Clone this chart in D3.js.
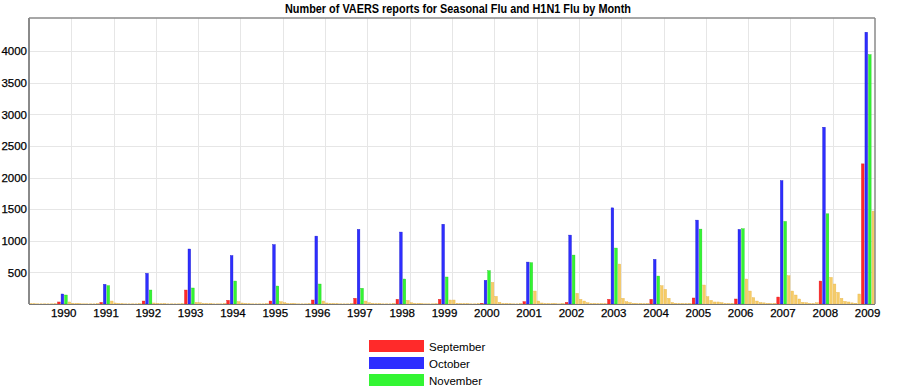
<!DOCTYPE html>
<html>
<head>
<meta charset="utf-8">
<script src="https://cdn.jsdelivr.net/npm/d3@7"></script>
<style>
  body { margin: 0; background: #fff; }
  svg { display: block; font-family: "Liberation Sans", Arial, sans-serif; }
</style>
</head>
<body>
<div id="chart"></div>
<script>
// years on the x axis, one value per month per year
const years = [1990, 1991, 1992, 1993, 1994, 1995, 1996, 1997, 1998, 1999,
               2000, 2001, 2002, 2003, 2004, 2005, 2006, 2007, 2008, 2009];

const jan = [5, 10, 16, 8, 20, 16, 20, 16, 20, 20, 63, 121, 47, 74, 90, 232, 116, 205, 205, 316];
const feb = [4, 5, 6, 5, 8, 6, 8, 8, 8, 8, 12, 26, 16, 47, 36, 90, 58, 100, 142, 184];
const mar = [3, 4, 4, 4, 5, 4, 5, 5, 5, 5, 6, 8, 6, 20, 23, 23, 32, 47, 79, 90];
const apr = [3, 3, 3, 3, 4, 3, 4, 4, 4, 4, 5, 5, 5, 8, 8, 10, 32, 23, 27, 42];
const may = [3, 3, 3, 3, 3, 3, 3, 3, 3, 3, 4, 4, 4, 6, 6, 6, 21, 18, 20, 32];
const jun = [3, 3, 3, 3, 3, 3, 3, 3, 3, 3, 3, 3, 4, 4, 5, 5, 8, 6, 8, 18];
const jul = [3, 3, 3, 3, 3, 3, 3, 3, 3, 3, 3, 3, 3, 4, 4, 4, 5, 5, 6, 10];
const aug = [4, 4, 4, 4, 5, 4, 5, 5, 5, 5, 5, 5, 5, 6, 6, 8, 8, 10, 20, 158];
const sep = [32, 26, 47, 221, 58, 47, 63, 90, 74, 74, 10, 37, 26, 74, 74, 95, 79, 110, 363, 2217];
const oct = [158, 311, 485, 870, 766, 940, 1074, 1180, 1138, 1262, 374, 663, 1090, 1521, 706, 1327, 1180, 1952, 2797, 4300];
const nov = [142, 290, 221, 253, 363, 284, 316, 248, 395, 427, 527, 653, 774, 885, 442, 1185, 1190, 1306, 1427, 3945];
const dec = [32, 47, 16, 26, 37, 37, 47, 47, 58, 63, 342, 205, 169, 632, 290, 300, 395, 447, 421, 1470];

const yTicks = [500, 1000, 1500, 2000, 2500, 3000, 3500, 4000];
const legendNames = ["September", "October", "November"];

const months = [jan, feb, mar, apr, may, jun, jul, aug, sep, oct, nov, dec];
const monthColor = function(m) {
    if (m === 8) return "#ff2a2a";
    if (m === 9) return "#2e2eff";
    if (m === 10) return "#33f533";
    return "#f6cc68";
};
const monthStroke = function(m) {
    if (m === 8) return "#e01818";
    if (m === 9) return "#1a1ad0";
    if (m === 10) return "#22c822";
    return "#e8b850";
};

// flatten into one monthly series
const series = [];
years.forEach(function(yr, yi) {
    months.forEach(function(arr, mi) {
        series.push({ idx: yi * 12 + mi, year: yr, month: mi, value: arr[yi] });
    });
});

const width = 910, height = 389;
const plotLeft = 29, plotRight = 875, plotTop = 18, plotBottom = 304;

const svg = d3.select("#chart").append("svg")
    .attr("width", width)
    .attr("height", height);

const x = d3.scaleBand()
    .domain(d3.range(series.length))
    .range([plotLeft, plotRight])
    .paddingInner(0.25)
    .paddingOuter(0.1);

const y = d3.scaleLinear()
    .domain([0, 4525])
    .range([plotBottom, plotTop]);

// title
svg.append("text")
    .attr("x", 458)
    .attr("y", 13)
    .attr("text-anchor", "middle")
    .attr("font-size", 12)
    .attr("font-weight", "bold")
    .attr("textLength", 346)
    .attr("lengthAdjust", "spacingAndGlyphs")
    .text("Number of VAERS reports for Seasonal Flu and H1N1 Flu by Month");

// grid
svg.append("g")
    .selectAll("line")
    .data(yTicks)
    .enter().append("line")
    .attr("x1", plotLeft).attr("x2", plotRight)
    .attr("y1", d => Math.round(y(d)) + 0.5)
    .attr("y2", d => Math.round(y(d)) + 0.5)
    .attr("stroke", "#e6e6e6");

const yearEdge = i => Math.round(x(i * 12) - x.step() * x.paddingInner() / 2) + 0.5;
svg.append("g")
    .selectAll("line")
    .data(years.slice(1))
    .enter().append("line")
    .attr("x1", (d, i) => yearEdge(i + 1))
    .attr("x2", (d, i) => yearEdge(i + 1))
    .attr("y1", plotTop).attr("y2", plotBottom)
    .attr("stroke", "#e6e6e6");

// bars
svg.append("g")
    .selectAll("rect")
    .data(series)
    .enter().append("rect")
    .attr("x", d => x(d.idx))
    .attr("width", x.bandwidth())
    .attr("y", d => y(d.value))
    .attr("height", d => plotBottom - y(d.value))
    .attr("fill", d => monthColor(d.month))
    .attr("stroke", d => monthStroke(d.month))
    .attr("stroke-width", 0.4);

// frame
svg.append("line")
    .attr("x1", plotLeft).attr("x2", plotRight)
    .attr("y1", plotTop).attr("y2", plotTop)
    .attr("stroke", "#8a8a8a").attr("stroke-width", 1.5);
svg.append("line")
    .attr("x1", plotRight).attr("x2", plotRight)
    .attr("y1", plotTop).attr("y2", plotBottom)
    .attr("stroke", "#8a8a8a").attr("stroke-width", 1.5);
svg.append("line")
    .attr("x1", plotLeft).attr("x2", plotLeft)
    .attr("y1", plotTop).attr("y2", plotBottom)
    .attr("stroke", "#8a8a8a").attr("stroke-width", 2);
svg.append("line")
    .attr("x1", plotLeft).attr("x2", plotRight)
    .attr("y1", plotBottom + 0.5).attr("y2", plotBottom + 0.5)
    .attr("stroke", "#777").attr("stroke-width", 1);

// y axis labels
const yAxis = d3.axisLeft(y)
    .tickValues(yTicks)
    .tickFormat(d3.format("d"))
    .tickSize(0)
    .tickPadding(2);
const ya = svg.append("g")
    .attr("transform", "translate(" + plotLeft + ",0)")
    .call(yAxis);
ya.select(".domain").remove();
ya.selectAll("text")
    .attr("font-size", 11.5)
    .attr("font-family", "Liberation Sans, Arial, sans-serif")
    .attr("fill", "#000")
    .attr("stroke", "#000")
    .attr("stroke-width", 0.25);

// year labels
svg.append("g")
    .selectAll("text")
    .data(years)
    .enter().append("text")
    .attr("x", (d, i) => x(i * 12 + 9) + x.step() * 0.75)
    .attr("y", 317)
    .attr("text-anchor", "middle")
    .attr("font-size", 11.5)
    .attr("stroke", "#000")
    .attr("stroke-width", 0.25)
    .text(d => d);

// legend
const legend = svg.append("g")
    .attr("transform", "translate(369,340)");
legendNames.forEach(function(name, i) {
    legend.append("rect")
        .attr("x", 0)
        .attr("y", i * 17)
        .attr("width", 55)
        .attr("height", 12)
        .attr("fill", monthColor(8 + i));
    legend.append("text")
        .attr("x", 60)
        .attr("y", i * 17 + 10.5)
        .attr("font-size", 11.5)
        .text(name);
});
</script>
</body>
</html>
